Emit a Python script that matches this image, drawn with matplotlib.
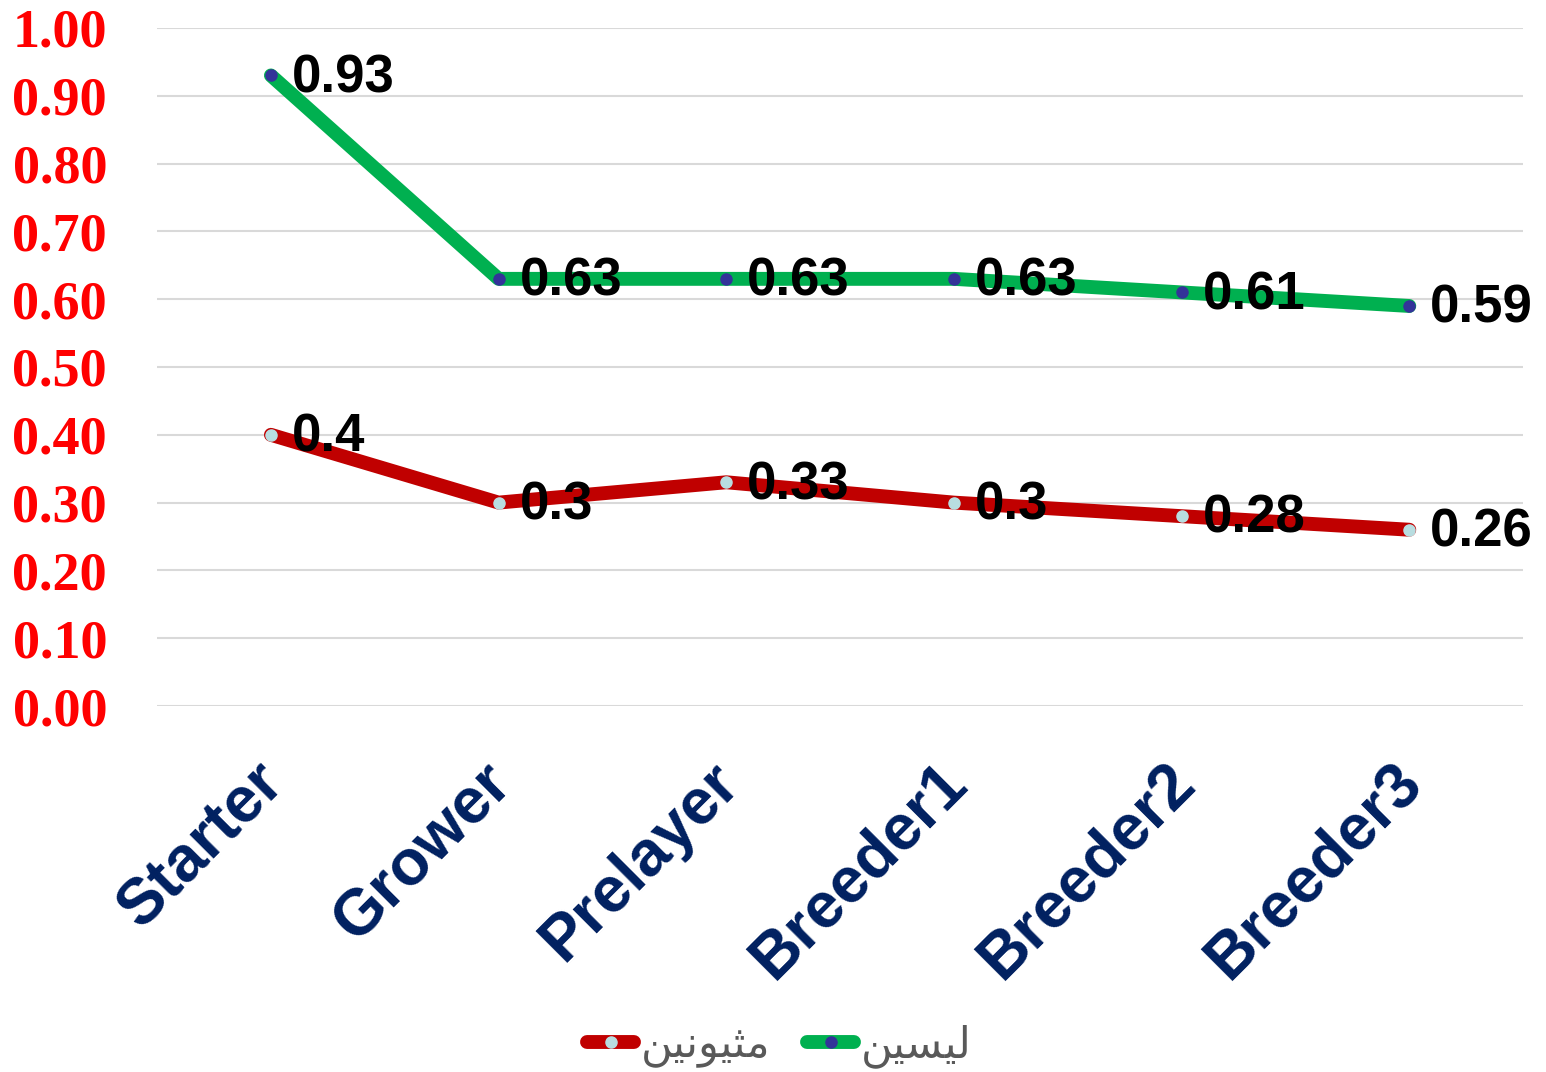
import matplotlib.pyplot as plt
from matplotlib.transforms import ScaledTranslation

# Data
stages = ['Starter', 'Grower', 'Prelayer', 'Breeder1', 'Breeder2', 'Breeder3']
methionine = [0.40, 0.30, 0.33, 0.30, 0.28, 0.26]
lysine = [0.93, 0.63, 0.63, 0.63, 0.61, 0.59]
methionine_labels = ['0.4', '0.3', '0.33', '0.3', '0.28', '0.26']
lysine_labels = ['0.93', '0.63', '0.63', '0.63', '0.61', '0.59']
# Arabic names (presentation forms, visual order, so they join without a shaper)
name_methionine = '\ufee6\ufef4\ufee7\ufeee\ufef4\ufe9c\ufee3'  # مثيونين
name_lysine = '\ufee6\ufef4\ufeb4\ufef4\ufedf'  # ليسين

fig = plt.figure(figsize=(15.46, 10.72), dpi=100)
ax = fig.add_axes([0.1016, 0.3414, 0.8836, 0.6325])

x = list(range(len(stages)))

ax.plot(x, methionine, color='#C00000', linewidth=10, solid_capstyle='round',
        marker='o', markersize=8, markerfacecolor='#B8DDE0',
        markeredgecolor='#B8DDE0', label=name_methionine, zorder=3)
ax.plot(x, lysine, color='#00B050', linewidth=10, solid_capstyle='round',
        marker='o', markersize=8, markerfacecolor='#333399',
        markeredgecolor='#333399', label=name_lysine, zorder=3)

# Data labels
for xi, v, t in zip(x, methionine, methionine_labels):
    ax.annotate(t, (xi, v), xytext=(15, -2), textcoords='offset points',
                ha='left', va='center', fontsize=38, fontweight='bold',
                family='Liberation Sans', color='black', zorder=4)
for xi, v, t in zip(x, lysine, lysine_labels):
    ax.annotate(t, (xi, v), xytext=(15, -2), textcoords='offset points',
                ha='left', va='center', fontsize=38, fontweight='bold',
                family='Liberation Sans', color='black', zorder=4)

# Axes styling
ax.set_xlim(-0.5, 5.5)
ax.set_ylim(0, 1)
ax.set_yticks([i / 10 for i in range(11)])
ax.set_yticklabels(['%.2f' % (i / 10) for i in range(11)], fontsize=39,
                   fontweight='bold', family='Liberation Serif', color='#FF0000')
ax.set_xticks(x)
ax.set_xticklabels(stages, rotation=45, ha='right', va='top',
                   rotation_mode='anchor', fontsize=46, fontweight='bold',
                   family='Liberation Sans', color='#002060')
ax.tick_params(axis='both', length=0)
ax.tick_params(axis='y', pad=36)
ax.tick_params(axis='x', pad=33)
# nudge the slanted category labels a little to the left
shift = ScaledTranslation(-0.18, 0, fig.dpi_scale_trans)
for lbl in ax.get_xticklabels():
    lbl.set_transform(lbl.get_transform() + shift)
ax.grid(axis='y', color='#D9D9D9', linewidth=1.5)
ax.set_axisbelow(True)
for s in ax.spines.values():
    s.set_visible(False)

# Legend
fig.legend(loc='center', bbox_to_anchor=(0.504, 0.024), ncol=2, frameon=False,
           prop={'family': 'DejaVu Sans', 'size': 31}, labelcolor='#595959',
           handlelength=1.1, handletextpad=0.15, columnspacing=0.85)

fig.savefig('out.png', dpi=100)
